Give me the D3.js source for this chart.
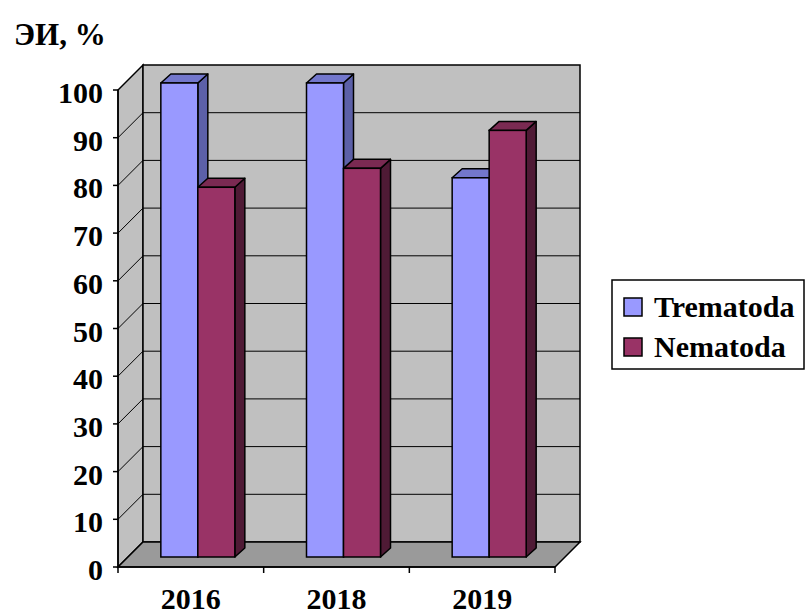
<!DOCTYPE html>
<html>
<head>
<meta charset="utf-8">
<script src="https://cdn.jsdelivr.net/npm/d3@7"></script>
<style>
body { margin: 0; background: #fff; }
text { font-family: "Liberation Serif", "Times New Roman", serif; font-weight: bold; fill: #000; }
</style>
</head>
<body>
<svg id="chart" width="806" height="616"></svg>
<script>
// data
const years = ['2016', '2018', '2019'];
const seriesNames = ['Trematoda', 'Nematoda'];
const trematoda = [100, 100, 80];
const nematoda = [78, 82, 90];
const yTicks = [0, 10, 20, 30, 40, 50, 60, 70, 80, 90, 100];

const svg = d3.select('#chart');
svg.append('rect').attr('width', 806).attr('height', 616).attr('fill', 'white');

// front plane geometry & depth of walls
const x0 = 118, x1 = 555, depX = 25, depY = -25;
const xFront = d3.scaleBand().domain(years).range([x0, x1]);
const yAxis = d3.scaleLinear().domain([0, 100]).range([567, 90]);
// bars stand a bit inside the floor
const barDx = 7;
const yBar = d3.scaleLinear().domain([0, 100]).range([557, 83]);
const groupW = 74;
const xSub = d3.scaleBand().domain(seriesNames).range([0, groupW]);

const colors = {
  Trematoda: { front: '#9999ff', top: '#7377cc', side: '#5c60a8' },
  Nematoda: { front: '#993366', top: '#7a2a52', side: '#4f1a35' }
};

const pts = a => a.map(p => p.join(',')).join(' ');

// walls
const yTop = yAxis(100), yBot = yAxis(0);
svg.append('polygon')
  .attr('points', pts([[x0, yBot], [x0 + depX, yBot + depY], [x0 + depX, yTop + depY], [x0, yTop]]))
  .attr('fill', '#c0c0c0').attr('stroke', '#000').attr('stroke-width', 1.5);
svg.append('rect')
  .attr('x', x0 + depX).attr('y', yTop + depY)
  .attr('width', x1 - x0).attr('height', yBot - yTop)
  .attr('fill', '#c0c0c0').attr('stroke', '#000').attr('stroke-width', 1.5);
svg.append('polygon')
  .attr('points', pts([[x0, yBot], [x1, yBot], [x1 + depX, yBot + depY], [x0 + depX, yBot + depY]]))
  .attr('fill', '#9a9a9a').attr('stroke', '#000').attr('stroke-width', 1.5);

// gridlines
yTicks.filter(v => v > 0 && v < 100).forEach(v => {
  const yy = yAxis(v);
  svg.append('line').attr('x1', x0).attr('y1', yy).attr('x2', x0 + depX).attr('y2', yy + depY)
    .attr('stroke', '#000').attr('stroke-width', 1);
  svg.append('line').attr('x1', x0 + depX).attr('y1', yy + depY).attr('x2', x1 + depX).attr('y2', yy + depY)
    .attr('stroke', '#000').attr('stroke-width', 1);
});

// bars
const bd = 10, bdy = -9;
function drawBar(year, name, value) {
  const c = colors[name];
  const bx = xFront(year) + (xFront.bandwidth() - groupW) / 2 + barDx + xSub(name);
  const w = xSub.bandwidth();
  const yt = yBar(value), yb = yBar(0);
  const g = svg.append('g');
  g.append('polygon').attr('points', pts([[bx + w, yb], [bx + w + bd, yb + bdy], [bx + w + bd, yt + bdy], [bx + w, yt]]))
    .attr('fill', c.side).attr('stroke', '#000').attr('stroke-width', 1.5).attr('stroke-linejoin', 'round');
  g.append('polygon').attr('points', pts([[bx, yt], [bx + w, yt], [bx + w + bd, yt + bdy], [bx + bd, yt + bdy]]))
    .attr('fill', c.top).attr('stroke', '#000').attr('stroke-width', 1.5).attr('stroke-linejoin', 'round');
  g.append('rect').attr('x', bx).attr('y', yt).attr('width', w).attr('height', yb - yt)
    .attr('fill', c.front).attr('stroke', '#000').attr('stroke-width', 1.5);
}
years.forEach((yr, i) => {
  drawBar(yr, 'Trematoda', trematoda[i]);
  drawBar(yr, 'Nematoda', nematoda[i]);
});

// axes
svg.append('line').attr('x1', x0).attr('y1', yTop).attr('x2', x0).attr('y2', yBot)
  .attr('stroke', '#000').attr('stroke-width', 1.5);
svg.append('line').attr('x1', x0).attr('y1', yBot).attr('x2', x1).attr('y2', yBot)
  .attr('stroke', '#000').attr('stroke-width', 1.5);
yTicks.forEach(v => {
  const yy = yAxis(v);
  svg.append('line').attr('x1', x0 - 5).attr('y1', yy).attr('x2', x0).attr('y2', yy)
    .attr('stroke', '#000').attr('stroke-width', 1.5);
  svg.append('text').attr('x', 103).attr('y', yy + 13).attr('text-anchor', 'end')
    .style('font-size', '30px').text(v);
});
const xTickPos = years.map(y => xFront(y)).concat([x1]);
xTickPos.forEach(xx => {
  svg.append('line').attr('x1', xx).attr('y1', yBot).attr('x2', xx).attr('y2', yBot + 6)
    .attr('stroke', '#000').attr('stroke-width', 1.5);
});
years.forEach(yr => {
  svg.append('text').attr('x', xFront(yr) + xFront.bandwidth() / 2).attr('y', 609)
    .attr('text-anchor', 'middle').style('font-size', '30px').text(yr);
});

// title
svg.append('text').attr('x', 14).attr('y', 45).style('font-size', '31px').text('ЭИ, %');

// legend
svg.append('rect').attr('x', 612).attr('y', 280).attr('width', 192).attr('height', 89)
  .attr('fill', 'white').attr('stroke', '#000').attr('stroke-width', 1.5);
seriesNames.forEach((n, i) => {
  const ly = 298 + i * 40;
  svg.append('rect').attr('x', 624).attr('y', ly).attr('width', 18).attr('height', 18)
    .attr('fill', colors[n].front).attr('stroke', '#000').attr('stroke-width', 1.5);
  svg.append('text').attr('x', 654).attr('y', ly + 19).style('font-size', '30px').text(n);
});
</script>
</body>
</html>
